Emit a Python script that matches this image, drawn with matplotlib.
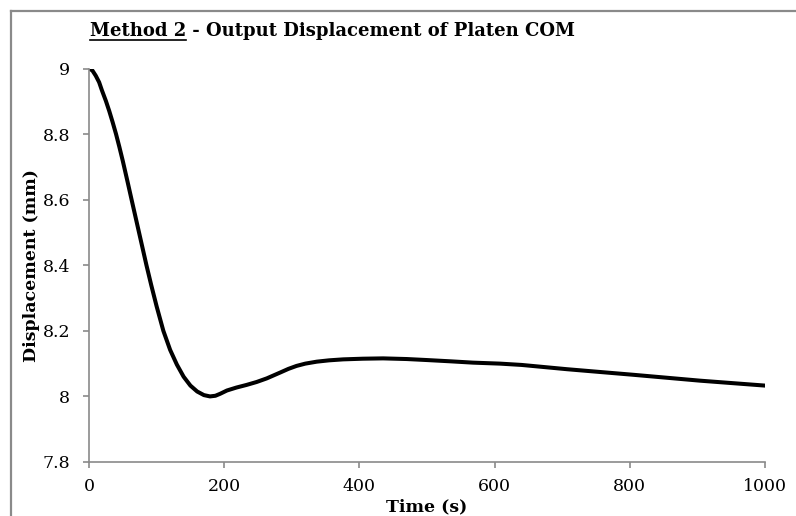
"""Platen COM displacement over time (method 2)."""

import matplotlib
matplotlib.use("Agg")
import matplotlib.pyplot as plt
from matplotlib.lines import Line2D

# Sampled response of the platen centre of mass
time_s = [0, 5, 10, 15, 19, 25, 30, 35, 40, 45, 50, 57, 63, 74, 85, 92,
          100, 110, 120, 130, 140, 150, 160, 170, 179, 187, 194, 204, 218,
          233, 248, 263, 283, 295, 307, 320, 337, 355, 376, 405, 435, 470,
          499, 535, 568, 608, 640, 707, 805, 904, 1000]
disp_mm = [9.000, 8.994, 8.978, 8.958, 8.934, 8.901, 8.870, 8.836, 8.800,
           8.760, 8.718, 8.655, 8.600, 8.500, 8.400, 8.340, 8.275, 8.200,
           8.142, 8.097, 8.060, 8.033, 8.015, 8.004, 8.000, 8.002, 8.008,
           8.018, 8.027, 8.035, 8.044, 8.055, 8.073, 8.084, 8.093, 8.100,
           8.106, 8.110, 8.113, 8.115, 8.116, 8.114, 8.111, 8.107, 8.103,
           8.100, 8.096, 8.083, 8.066, 8.048, 8.033]

x_ticks = [0, 200, 400, 600, 800, 1000]
y_ticks = [7.8, 8.0, 8.2, 8.4, 8.6, 8.8, 9.0]
y_tick_labels = ["7.8", "8", "8.2", "8.4", "8.6", "8.8", "9"]

TITLE_LEAD = "Method 2"
TITLE_REST = " - Output Displacement of Platen COM"

FONT = "DejaVu Serif"
AXIS_GREY = "#8a8a8a"

W, H = 796, 516
fig = plt.figure(figsize=(W / 100, H / 100), dpi=100)
fig.patch.set_facecolor("white")

# chart border: only the top and left edges fall inside the image
fig.add_artist(Line2D([11 / W, 11 / W], [0, 1 - 11 / H],
                      transform=fig.transFigure, color=AXIS_GREY,
                      linewidth=1.6))
fig.add_artist(Line2D([11 / W, 1], [1 - 11 / H, 1 - 11 / H],
                      transform=fig.transFigure, color=AXIS_GREY,
                      linewidth=1.6))

ax = fig.add_axes([89 / W, 1 - 462 / H, 676 / W, 393.5 / H])
ax.plot(time_s, disp_mm, color="black", linewidth=2.9,
        solid_capstyle="round", solid_joinstyle="round")

ax.set_xlim(0, 1000)
ax.set_ylim(7.8, 9.0)
ax.set_xticks(x_ticks)
ax.set_yticks(y_ticks)
ax.set_yticklabels(y_tick_labels)

for side in ("top", "right"):
    ax.spines[side].set_visible(False)
for side in ("left", "bottom"):
    ax.spines[side].set_color(AXIS_GREY)
    ax.spines[side].set_linewidth(1.2)

ax.tick_params(axis="both", direction="out", length=4.5, width=1.2,
               color=AXIS_GREY, labelsize=12.5)
ax.tick_params(axis="y", pad=9)
ax.tick_params(axis="x", pad=7)
for lbl in ax.get_xticklabels() + ax.get_yticklabels():
    lbl.set_family(FONT)

ax.set_xlabel("Time (s)", fontsize=12.5, fontweight="bold", family=FONT)
ax.set_ylabel("Displacement (mm)", fontsize=12.5, fontweight="bold",
              family=FONT)
ax.xaxis.set_label_coords(0.5, -0.092)
ax.yaxis.set_label_coords(-0.073, 0.5)

# title: underlined lead followed by the rest of the heading
y_base = 1 - 36 / H
t1 = fig.text(90 / W, y_base, TITLE_LEAD, fontsize=13, fontweight="bold",
              family=FONT, va="baseline", ha="left")
fig.canvas.draw()
renderer = fig.canvas.get_renderer()
bb = t1.get_window_extent(renderer)
fig.text(bb.x1 / W, y_base, TITLE_REST, fontsize=13, fontweight="bold",
         family=FONT, va="baseline", ha="left")
y_line = 1 - 40 / H
fig.add_artist(Line2D([bb.x0 / W, bb.x1 / W], [y_line, y_line],
                      transform=fig.transFigure, color="black",
                      linewidth=1.2))

fig.savefig("out.png", dpi=100)
